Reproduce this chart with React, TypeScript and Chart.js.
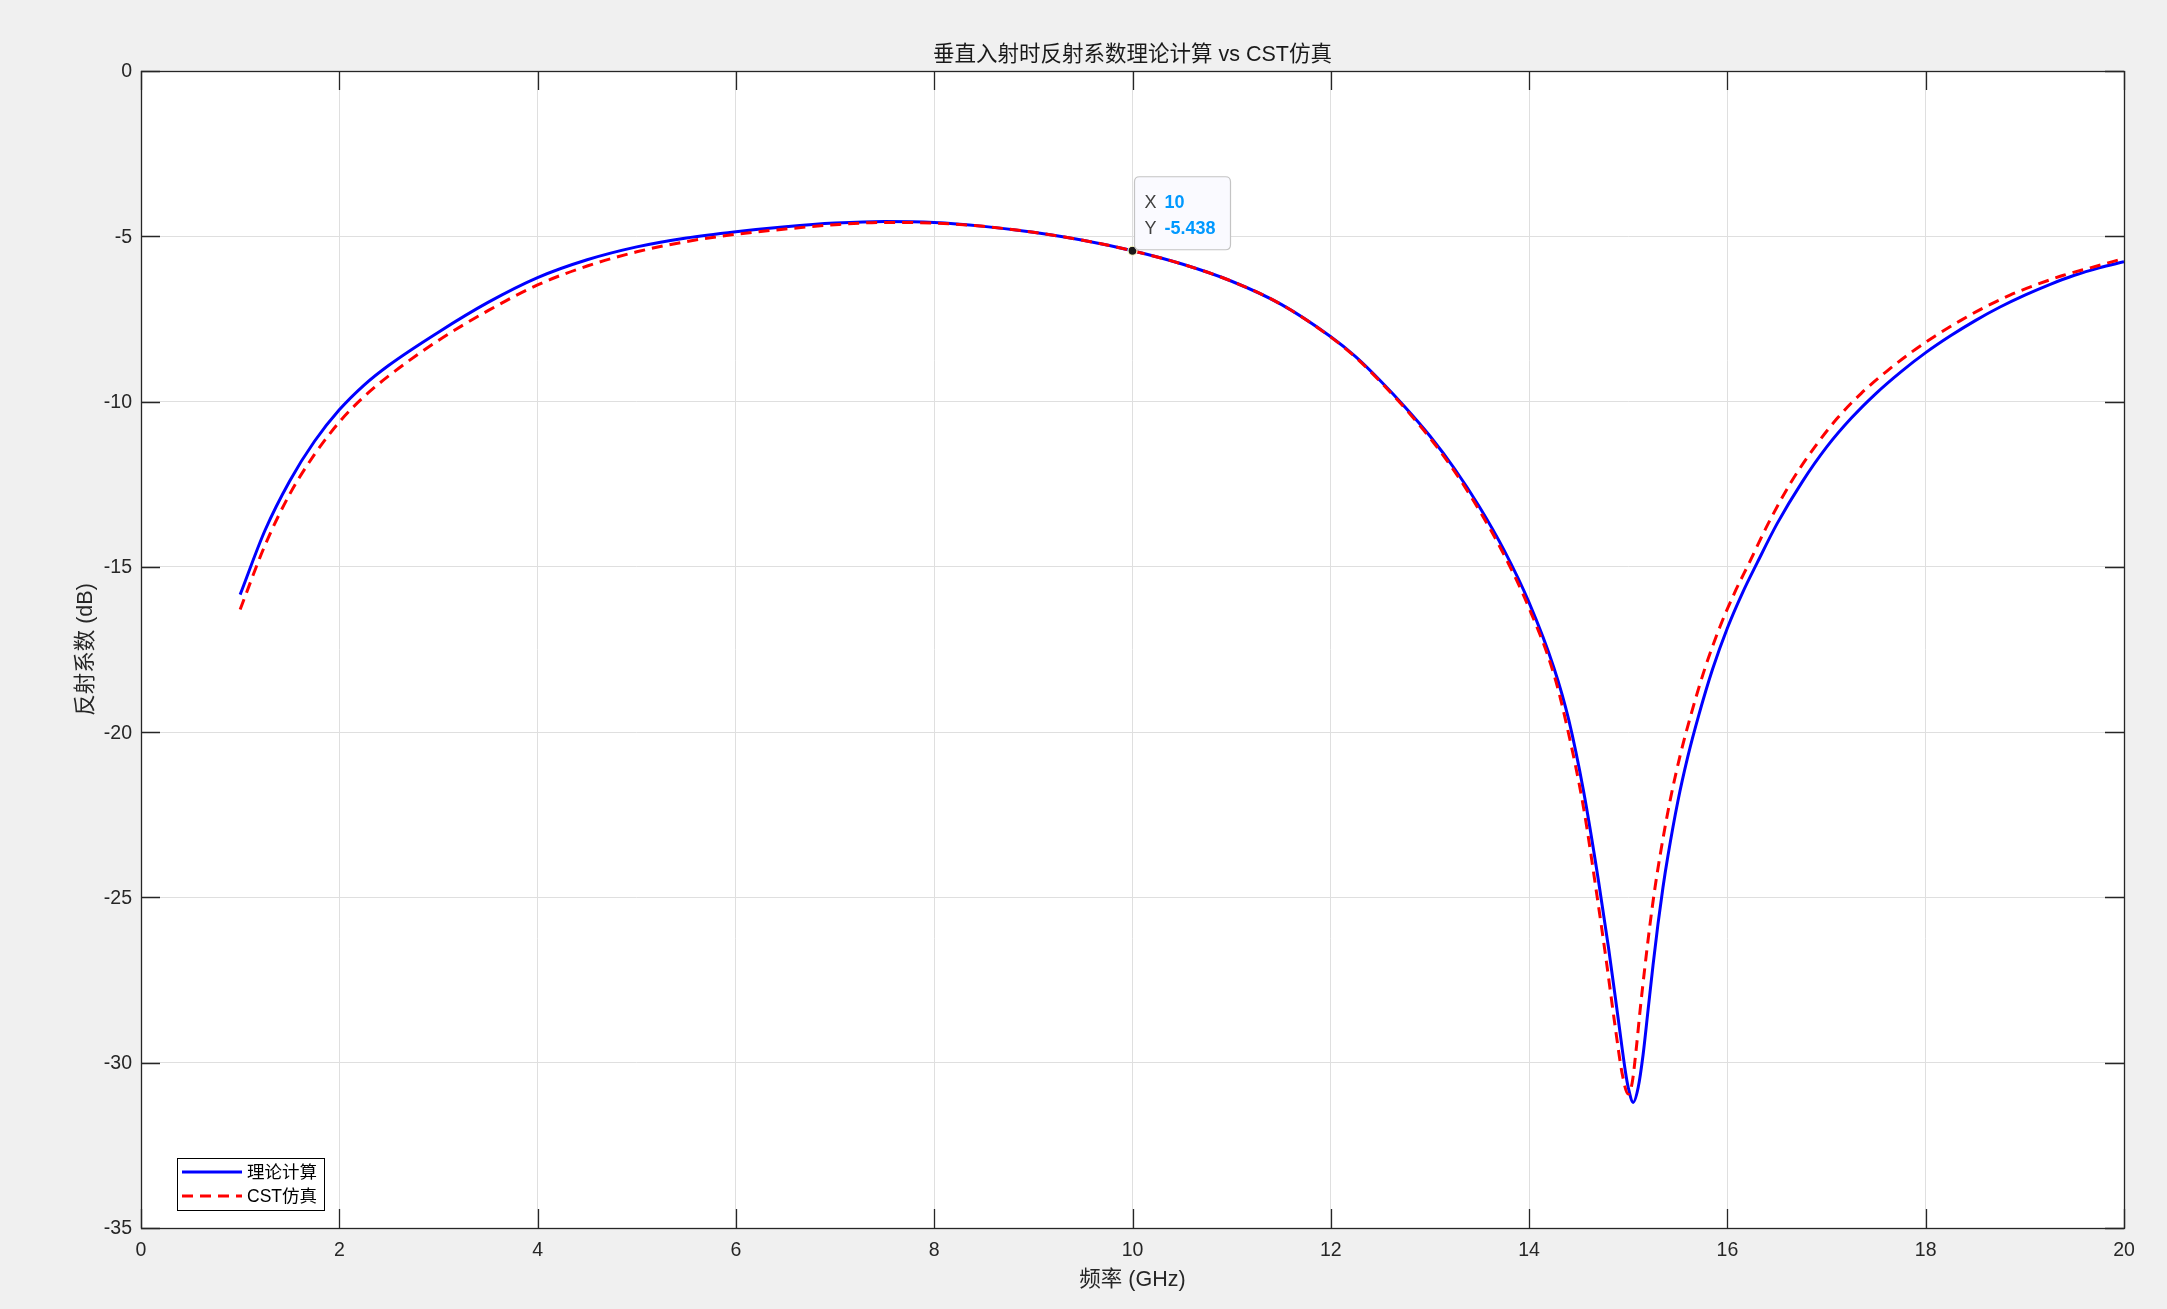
import React, { useEffect, useRef } from "react";
import { Chart, registerables } from "chart.js";

Chart.register(...registerables);

const W = 2167;
const H = 1309;

// ---- data ----
const theoryFreq = [1, 1.25, 1.5, 1.75, 2, 2.25, 2.5, 3, 3.5, 4, 4.5, 5, 5.5, 6, 6.5, 7, 7.5, 8, 8.5, 9, 9.5, 10, 10.5, 11, 11.5, 12, 12.25, 12.5, 12.75, 13, 13.25, 13.5, 13.75, 14, 14.25, 14.4, 14.55, 14.7, 14.8, 14.9, 14.97, 15.0, 15.05, 15.1, 15.15, 15.2, 15.25, 15.3, 15.35, 15.4, 15.5, 15.6, 15.71, 15.85, 16.0, 16.15, 16.3, 16.5, 16.75, 17.0, 17.25, 17.5, 17.75, 18.0, 18.25, 18.5, 18.75, 19.0, 19.25, 19.5, 19.75, 20];
const theoryDb = [-15.84, -13.9, -12.4, -11.2, -10.25, -9.5, -8.9, -7.9, -7.0, -6.25, -5.71, -5.32, -5.05, -4.86, -4.71, -4.6, -4.55, -4.58, -4.7, -4.88, -5.12, -5.438, -5.84, -6.36, -7.06, -8.04, -8.64, -9.37, -10.17, -11.04, -12.04, -13.19, -14.51, -16.08, -18.05, -19.63, -21.8, -24.5, -26.5, -28.7, -30.24, -30.75, -31.2, -30.75, -29.75, -28.4, -27.05, -25.8, -24.7, -23.75, -22.1, -20.75, -19.5, -18.1, -16.85, -15.8, -14.88, -13.7, -12.45, -11.38, -10.5, -9.75, -9.1, -8.52, -8.01, -7.55, -7.14, -6.78, -6.46, -6.18, -5.955, -5.77];

const cstFreq = [1, 1.25, 1.5, 1.75, 2, 2.25, 2.5, 3, 3.5, 4, 4.5, 5, 5.5, 6, 6.5, 7, 7.5, 8, 8.5, 9, 9.5, 10, 10.5, 11, 11.5, 12, 12.25, 12.5, 12.75, 13, 13.25, 13.5, 13.75, 14, 14.25, 14.38, 14.55, 14.68, 14.78, 14.87, 14.94, 15.0, 15.04, 15.08, 15.12, 15.17, 15.22, 15.27, 15.32, 15.42, 15.52, 15.63, 15.77, 15.92, 16.07, 16.22, 16.41, 16.64, 16.88, 17.11, 17.35, 17.6, 17.85, 18.1, 18.35, 18.6, 18.85, 19.12, 19.39, 19.66, 20];
const cstDb = [-16.29, -14.35, -12.8, -11.6, -10.62, -9.85, -9.22, -8.15, -7.25, -6.47, -5.9, -5.47, -5.16, -4.94, -4.78, -4.65, -4.58, -4.6, -4.7, -4.88, -5.12, -5.438, -5.84, -6.36, -7.06, -8.05, -8.66, -9.4, -10.21, -11.1, -12.12, -13.3, -14.65, -16.25, -18.25, -19.8, -22.3, -24.85, -26.95, -28.95, -30.35, -30.95, -30.6, -29.6, -28.4, -27.05, -25.8, -24.7, -23.75, -22.1, -20.75, -19.5, -18.1, -16.85, -15.8, -14.88, -13.7, -12.45, -11.38, -10.5, -9.75, -9.1, -8.52, -8.01, -7.55, -7.14, -6.78, -6.46, -6.18, -5.955, -5.67];

const markerFreq = [10];
const markerDb = [-5.438];

const xTicks = [0, 2, 4, 6, 8, 10, 12, 14, 16, 18, 20];
const yTicks = [0, -5, -10, -15, -20, -25, -30, -35];

const titleText = "垂直入射时反射系数理论计算 vs CST仿真";
const xLabel = "频率 (GHz)";
const yLabel = "反射系数 (dB)";
const legendLabels = ["理论计算", "CST仿真"];

const FONT = '"Liberation Sans", "Noto Sans CJK SC", Arial, sans-serif';
const TEXT = "#262626";

const matlabPlugin = {
  id: "matlabLook",
  beforeDraw(chart: any) {
    const { ctx, chartArea: a } = chart;
    ctx.save();
    ctx.fillStyle = "#f0f0f0";
    ctx.fillRect(0, 0, chart.width, chart.height);
    ctx.fillStyle = "#ffffff";
    ctx.fillRect(a.left, a.top, a.right - a.left, a.bottom - a.top);
    ctx.restore();
  },
  afterDraw(chart: any) {
    const { ctx, chartArea: a, scales } = chart;
    const xs = scales.x;
    const ys = scales.y;
    ctx.save();

    // inward ticks
    const tl = 19;
    ctx.strokeStyle = TEXT;
    ctx.lineWidth = 1.3;
    ctx.beginPath();
    xTicks.forEach((v) => {
      const px = Math.round(xs.getPixelForValue(v)) + 0.5;
      ctx.moveTo(px, a.bottom);
      ctx.lineTo(px, a.bottom - tl);
      ctx.moveTo(px, a.top);
      ctx.lineTo(px, a.top + tl);
    });
    yTicks.forEach((v) => {
      const py = Math.round(ys.getPixelForValue(v)) + 0.5;
      ctx.moveTo(a.left, py);
      ctx.lineTo(a.left + tl, py);
      ctx.moveTo(a.right, py);
      ctx.lineTo(a.right - tl, py);
    });
    ctx.stroke();

    // box
    ctx.strokeRect(a.left + 0.5, a.top + 0.5, a.right - a.left, a.bottom - a.top);

    // tick labels
    ctx.fillStyle = TEXT;
    ctx.font = `19.5px ${FONT}`;
    ctx.textAlign = "center";
    ctx.textBaseline = "middle";
    xTicks.forEach((v) => {
      ctx.fillText(String(v), xs.getPixelForValue(v), a.bottom + 23);
    });
    ctx.textAlign = "right";
    yTicks.forEach((v) => {
      ctx.fillText(String(v), a.left - 9, ys.getPixelForValue(v) + 1);
    });

    // title and axis labels
    ctx.font = `21.5px ${FONT}`;
    ctx.textAlign = "center";
    ctx.fillStyle = "#1a1a1a";
    ctx.fillText(titleText, (a.left + a.right) / 2, a.top - 16);
    ctx.fillStyle = TEXT;
    ctx.fillText(xLabel, (a.left + a.right) / 2, a.bottom + 52);
    ctx.save();
    ctx.translate(a.left - 55, (a.top + a.bottom) / 2);
    ctx.rotate(-Math.PI / 2);
    ctx.fillText(yLabel, 0, 0);
    ctx.restore();

    // legend
    const lx = a.left + 36;
    const ly = a.bottom - 70;
    const lw = 147;
    const lh = 52;
    ctx.fillStyle = "#ffffff";
    ctx.fillRect(lx, ly, lw, lh);
    ctx.strokeStyle = "#000000";
    ctx.lineWidth = 1;
    ctx.strokeRect(lx + 0.5, ly + 0.5, lw, lh);
    const rows = [ly + 14, ly + 38];
    ctx.lineWidth = 3;
    ctx.strokeStyle = "#0000ff";
    ctx.setLineDash([]);
    ctx.beginPath();
    ctx.moveTo(lx + 5, rows[0]);
    ctx.lineTo(lx + 65, rows[0]);
    ctx.stroke();
    ctx.strokeStyle = "#ff0000";
    ctx.setLineDash([11, 7]);
    ctx.beginPath();
    ctx.moveTo(lx + 5, rows[1]);
    ctx.lineTo(lx + 65, rows[1]);
    ctx.stroke();
    ctx.setLineDash([]);
    ctx.fillStyle = "#000000";
    ctx.font = `17.5px ${FONT}`;
    ctx.textAlign = "left";
    ctx.fillText(legendLabels[0], lx + 70, rows[0] + 1);
    ctx.fillText(legendLabels[1], lx + 70, rows[1] + 1);

    // datatip
    const mx = xs.getPixelForValue(markerFreq[0]);
    const my = ys.getPixelForValue(markerDb[0]);
    const bx = mx + 2;
    const by = my - 74;
    const bw = 96;
    const bh = 73;
    const r = 5;
    ctx.beginPath();
    ctx.moveTo(bx + r, by);
    ctx.lineTo(bx + bw - r, by);
    ctx.quadraticCurveTo(bx + bw, by, bx + bw, by + r);
    ctx.lineTo(bx + bw, by + bh - r);
    ctx.quadraticCurveTo(bx + bw, by + bh, bx + bw - r, by + bh);
    ctx.lineTo(bx + r, by + bh);
    ctx.quadraticCurveTo(bx, by + bh, bx, by + bh - r);
    ctx.lineTo(bx, by + r);
    ctx.quadraticCurveTo(bx, by, bx + r, by);
    ctx.closePath();
    ctx.fillStyle = "#fafaff";
    ctx.fill();
    ctx.strokeStyle = "#c4c4c4";
    ctx.lineWidth = 1.2;
    ctx.stroke();
    ctx.font = `18px ${FONT}`;
    ctx.textAlign = "left";
    ctx.fillStyle = "#404040";
    ctx.fillText("X", bx + 10, by + 26);
    ctx.fillText("Y", bx + 10, by + 52);
    ctx.fillStyle = "#0099ff";
    ctx.font = `bold 18px ${FONT}`;
    ctx.fillText(String(markerFreq[0]), bx + 30, by + 26);
    ctx.fillText(markerDb[0].toFixed(3), bx + 30, by + 52);

    ctx.restore();
  },
};

export default function App() {
  const ref = useRef<HTMLCanvasElement | null>(null);

  useEffect(() => {
    if (!ref.current) return;
    document.body.style.margin = "0";
    document.body.style.background = "#f0f0f0";
    const chart = new Chart(ref.current, {
      type: "line",
      data: {
        datasets: [
          {
            label: legendLabels[0],
            data: theoryFreq.map((f, i) => ({ x: f, y: theoryDb[i] })),
            borderColor: "#0000ff",
            borderWidth: 3,
            pointRadius: 0,
            fill: false,
            cubicInterpolationMode: "monotone",
            order: 2,
          },
          {
            label: legendLabels[1],
            data: cstFreq.map((f, i) => ({ x: f, y: cstDb[i] })),
            borderColor: "#ff0000",
            borderWidth: 3,
            borderDash: [11, 7],
            pointRadius: 0,
            fill: false,
            cubicInterpolationMode: "monotone",
            order: 1,
          },
          {
            label: "datatip",
            data: markerFreq.map((f, i) => ({ x: f, y: markerDb[i] })),
            showLine: false,
            pointRadius: 4.5,
            pointBackgroundColor: "#1a1a1a",
            pointBorderColor: "#ffffc8",
            pointBorderWidth: 1.2,
            order: 0,
          },
        ],
      },
      options: {
        responsive: false,
        animation: false,
        events: [],
        layout: { padding: { left: 0, top: 71, right: 43, bottom: 0 } },
        plugins: {
          legend: { display: false },
          title: { display: false },
          tooltip: { enabled: false },
        },
        scales: {
          x: {
            type: "linear",
            min: 0,
            max: 20,
            ticks: { display: false, stepSize: 2 },
            grid: { color: "#dfdfdf", lineWidth: 1, drawTicks: false },
            border: { display: false },
            afterFit: (s: any) => {
              s.height = 81;
            },
          },
          y: {
            type: "linear",
            min: -35,
            max: 0,
            ticks: { display: false, stepSize: 5 },
            grid: { color: "#dfdfdf", lineWidth: 1, drawTicks: false },
            border: { display: false },
            afterFit: (s: any) => {
              s.width = 141;
            },
          },
        },
      },
      plugins: [matlabPlugin],
    });
    return () => chart.destroy();
  }, []);

  return (
    <div style={{ position: "fixed", left: 0, top: 0, width: W, height: H, background: "#f0f0f0" }}>
      <canvas ref={ref} width={W} height={H} style={{ display: "block", width: W, height: H }} />
    </div>
  );
}
